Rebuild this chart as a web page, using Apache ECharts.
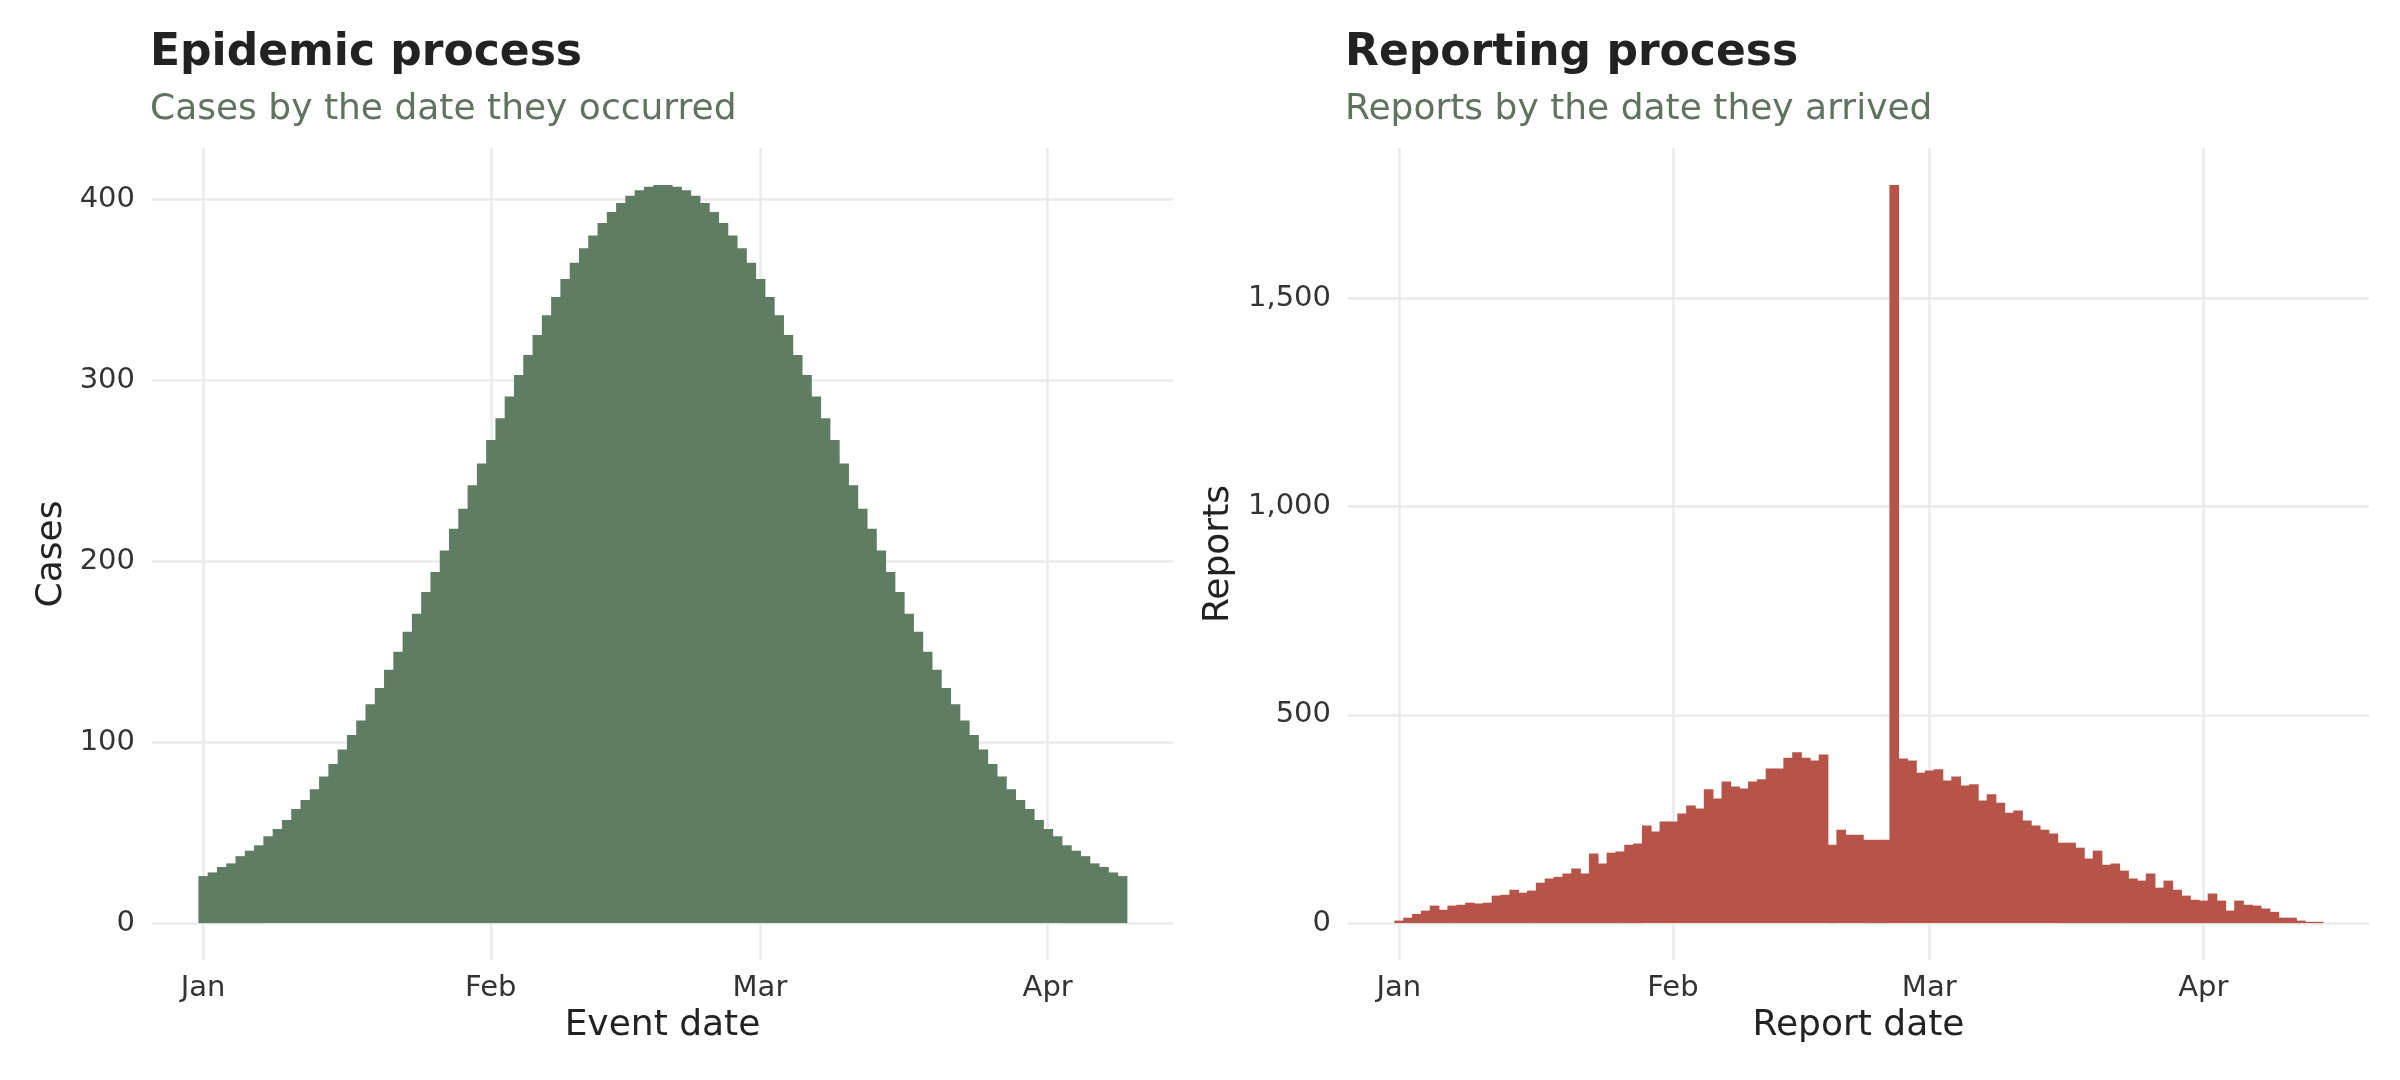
<!DOCTYPE html>
<html>

<head>
    <meta charset="utf-8">
    <title>Epidemic and reporting process</title>
    <script src="https://cdn.jsdelivr.net/npm/echarts@6.0.0/dist/echarts.min.js"></script>
    <style>
        html, body {
            margin: 0;
            padding: 0;
            background: #fff;
        }
        #chart-container {
            width: 2400px;
            height: 1080px;
        }
    </style>
</head>

<body>
    <div id="chart-container"></div>
    <script>
        // daily cases by event date, starting Jan 1
        const eventCases = [
            26, 28, 31, 33, 37, 40, 43, 48, 52, 57, 63, 68, 74, 81, 88, 96, 104, 112, 121, 130,
            140, 150, 161, 171, 183, 194, 206, 218, 229, 242, 254, 267, 279, 291, 303, 314, 325, 336, 346, 356,
            365, 373, 380, 387, 393, 398, 402, 405, 407, 408, 408, 407, 405, 402, 398, 393, 387, 380, 373, 365,
            356, 346, 336, 325, 314, 303, 291, 279, 267, 254, 242, 229, 218, 206, 194, 183, 171, 161, 150, 140,
            130, 121, 112, 104, 96, 88, 81, 74, 68, 63, 57, 52, 48, 43, 40, 37, 33, 31, 28, 26
        ];

        // daily reports by report date, starting Jan 1
        const reports = [
            6, 13, 22, 30, 42, 32, 42, 44, 49, 47, 49, 66, 68, 80, 73, 78, 97, 107, 111, 119,
            131, 119, 167, 143, 169, 172, 188, 191, 234, 220, 244, 244, 263, 282, 275, 321, 299, 340, 328, 323,
            340, 345, 371, 371, 397, 410, 397, 390, 405, 188, 224, 212, 212, 200, 200, 200, 1772, 395, 390, 361,
            366, 369, 342, 352, 330, 333, 294, 309, 289, 265, 270, 246, 234, 224, 215, 193, 193, 181, 155, 174,
            140, 143, 126, 107, 102, 119, 85, 102, 80, 66, 56, 54, 71, 54, 30, 54, 44, 42, 35, 27,
            13, 13, 6, 3, 3
        ];

        // month starts as day offsets from Jan 1 (2020, leap year)
        const monthTicks = [0, 31, 60, 91];
        const monthLabels = ['Jan', 'Feb', 'Mar', 'Apr'];
        const casesTicks = [0, 100, 200, 300, 400];
        const reportTicks = [0, 500, 1000, 1500];

        const FONT = 'DejaVu Sans';
        const GRID_COLOR = '#ebebeb';
        const GREEN = '#5f7d62';
        const RED = '#b7544a';

        const chart = echarts.init(document.getElementById('chart-container'));

        function xAxisFor(gridIndex, name, min, max) {
            return {
                type: 'value',
                gridIndex: gridIndex,
                min: min,
                max: max,
                axisLine: { show: false, onZero: false },
                axisTick: { show: false, customValues: monthTicks },
                axisLabel: {
                    customValues: monthTicks,
                    formatter: v => monthLabels[monthTicks.indexOf(v)] || '',
                    fontFamily: FONT,
                    fontSize: 29,
                    color: '#333',
                    margin: 14
                },
                splitLine: { show: true, lineStyle: { color: GRID_COLOR, width: 2.5 } },
                name: name,
                nameLocation: 'middle',
                nameGap: 48,
                nameTextStyle: { fontFamily: FONT, fontSize: 36, color: '#222' }
            };
        }

        function yAxisFor(gridIndex, name, min, max, ticks, gap) {
            return {
                type: 'value',
                gridIndex: gridIndex,
                min: min,
                max: max,
                axisLine: { show: false },
                axisTick: { show: false, customValues: ticks },
                axisLabel: {
                    customValues: ticks,
                    formatter: v => v.toLocaleString('en-US'),
                    fontFamily: FONT,
                    fontSize: 29,
                    color: '#333',
                    margin: 17
                },
                splitLine: { show: true, lineStyle: { color: GRID_COLOR, width: 2.5 } },
                name: name,
                nameLocation: 'middle',
                nameRotate: 90,
                nameGap: gap,
                nameTextStyle: { fontFamily: FONT, fontSize: 36, color: '#222' }
            };
        }

        function titleFor(left, text, subtext) {
            return {
                left: left,
                top: 32,
                padding: 0,
                itemGap: 16,
                text: text,
                subtext: subtext,
                textStyle: { fontFamily: FONT, fontSize: 44, fontWeight: 'bold', color: '#222', lineHeight: 44 },
                subtextStyle: { fontFamily: FONT, fontSize: 36, color: '#60735f', lineHeight: 36 }
            };
        }

        // one-day-wide column from the axis scales; a small overlap hides seams
        function dayColumn(color) {
            return function (params, api) {
                const day = api.value(0);
                const count = api.value(1);
                const topLeft = api.coord([day - 0.5, count]);
                const bottomRight = api.coord([day + 0.5, 0]);
                return {
                    type: 'rect',
                    shape: {
                        x: topLeft[0],
                        y: topLeft[1],
                        width: bottomRight[0] - topLeft[0] + 0.8,
                        height: bottomRight[1] - topLeft[1]
                    },
                    style: { fill: color }
                };
            };
        }

        const option = {
            animation: false,
            backgroundColor: '#fff',
            title: [
                titleFor(150, 'Epidemic process', 'Cases by the date they occurred'),
                titleFor(1345, 'Reporting process', 'Reports by the date they arrived')
            ],
            grid: [
                { left: 152, right: 1227, top: 148, bottom: 120 },
                { left: 1348, right: 31, top: 148, bottom: 120 }
            ],
            xAxis: [
                xAxisFor(0, 'Event date', -5.5, 104.5),
                xAxisFor(1, 'Report date', -5.75, 109.75)
            ],
            yAxis: [
                yAxisFor(0, 'Cases', -20.4, 428.4, casesTicks, 82),
                yAxisFor(1, 'Reports', -88.6, 1860.6, reportTicks, 111)
            ],
            series: [
                {
                    type: 'custom',
                    xAxisIndex: 0,
                    yAxisIndex: 0,
                    encode: { x: 0, y: 1 },
                    data: eventCases.map((v, i) => [i, v]),
                    renderItem: dayColumn(GREEN)
                },
                {
                    type: 'custom',
                    xAxisIndex: 1,
                    yAxisIndex: 1,
                    encode: { x: 0, y: 1 },
                    data: reports.map((v, i) => [i, v]),
                    renderItem: dayColumn(RED)
                }
            ]
        };

        chart.setOption(option);
    </script>
</body>

</html>
